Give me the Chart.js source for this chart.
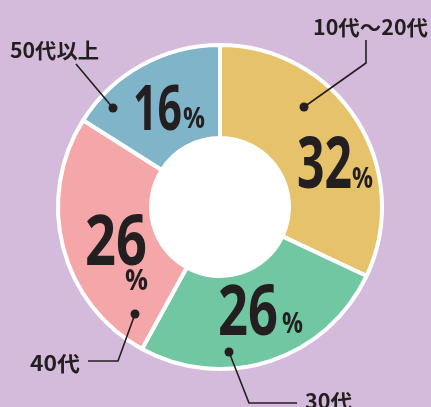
<!DOCTYPE html>
<html>
<head>
<meta charset="utf-8">
<script src="https://cdn.jsdelivr.net/npm/chart.js@4/dist/chart.umd.min.js"></script>
<style>
html,body{margin:0;padding:0;background:#d4bbdb;overflow:hidden;}
#wrap{width:431px;height:407px;position:relative;}
canvas{display:block;}
</style>
</head>
<body>
<div id="wrap"><canvas id="c" width="431" height="407"></canvas></div>
<script>
const categories = ["10代～20代", "30代", "40代", "50代以上"];
const values = [32, 26, 26, 16];
const valueLabels = ["32", "26", "26", "16"];
const colors = ["#e6c26a", "#72c7a3", "#f4a6a9", "#80b4c8"];

const INK = "#231f20";
// annotation layout (relative to chart centre): number text, % sign, dot, leader path, label
const layout = [
  { num:{x:77,y:-19,s:71,w:55}, pct:{x:132,y:-19,s:28,w:21},
    dot:[84,-100], path:[[84,-100],[146,-144],[146,-167]], lab:{x:93,y:-172,w:115} },
  { num:{x:-2,y:128,s:70,w:60}, pct:{x:62,y:126,s:28,w:21},
    dot:[9,145], path:[[9,145],[29,196],[77,196]], lab:{x:85,y:202,w:47} },
  { num:{x:-135,y:58,s:70,w:62}, pct:{x:-95,y:83,s:28,w:23},
    dot:[-85,107], path:[[-85,107],[-102,154],[-132,154]], lab:{x:-190,y:164,w:50} },
  { num:{x:-87,y:-77,s:63,w:49}, pct:{x:-37,y:-79,s:28,w:22},
    dot:[-107,-99], path:[[-107,-99],[-144,-143]], lab:{x:-210,y:-149,w:89} }
];

function drawScaled(ctx, text, x, y, font, targetW) {
  ctx.save();
  ctx.font = font;
  const w = ctx.measureText(text).width;
  const sx = targetW / w;
  ctx.translate(x, y);
  ctx.scale(sx, 1);
  ctx.textBaseline = "alphabetic";
  ctx.textAlign = "left";
  ctx.fillText(text, 0, 0);
  ctx.restore();
}

const annot = {
  id: "annot",
  beforeDatasetsDraw(chart) {
    const arc = chart.getDatasetMeta(0).data[0];
    const ctx = chart.ctx;
    ctx.save();
    ctx.fillStyle = "#ffffff";
    ctx.beginPath();
    ctx.arc(arc.x, arc.y, arc.innerRadius + 1, 0, Math.PI * 2);
    ctx.fill();
    ctx.restore();
  },
  afterDatasetsDraw(chart) {
    const meta = chart.getDatasetMeta(0);
    const cx = meta.data[0].x, cy = meta.data[0].y;
    const ctx = chart.ctx;
    ctx.save();
    ctx.fillStyle = INK;
    ctx.strokeStyle = INK;
    const numFont = s => `bold ${s}px "Open Sans", "Liberation Sans", sans-serif`;
    const labFont = 'bold 21px "Noto Sans CJK JP", "Noto Sans", sans-serif';
    layout.forEach((L, i) => {
      drawScaled(ctx, valueLabels[i], cx + L.num.x, cy + L.num.y, numFont(L.num.s), L.num.w);
      drawScaled(ctx, "%", cx + L.pct.x, cy + L.pct.y, numFont(L.pct.s), L.pct.w);
      ctx.lineWidth = 1.6;
      ctx.beginPath();
      L.path.forEach((p, k) => { if (k === 0) ctx.moveTo(cx + p[0], cy + p[1]); else ctx.lineTo(cx + p[0], cy + p[1]); });
      ctx.stroke();
      ctx.beginPath();
      ctx.arc(cx + L.dot[0], cy + L.dot[1], 4.5, 0, Math.PI * 2);
      ctx.fill();
      drawScaled(ctx, categories[i], cx + L.lab.x, cy + L.lab.y, labFont, L.lab.w);
    });
    ctx.restore();
  }
};

new Chart(document.getElementById("c"), {
  type: "doughnut",
  data: {
    labels: categories,
    datasets: [{
      data: values,
      backgroundColor: colors,
      borderColor: "#ffffff",
      borderWidth: 4,
      hoverOffset: 0
    }]
  },
  options: {
    responsive: false,
    animation: false,
    radius: 162,
    cutout: "42.6%",
    layout: { padding: { left: 9, right: 0, top: 7, bottom: 0 } },
    plugins: { legend: { display: false }, tooltip: { enabled: false } },
    events: []
  },
  plugins: [annot]
});
</script>
</body>
</html>
